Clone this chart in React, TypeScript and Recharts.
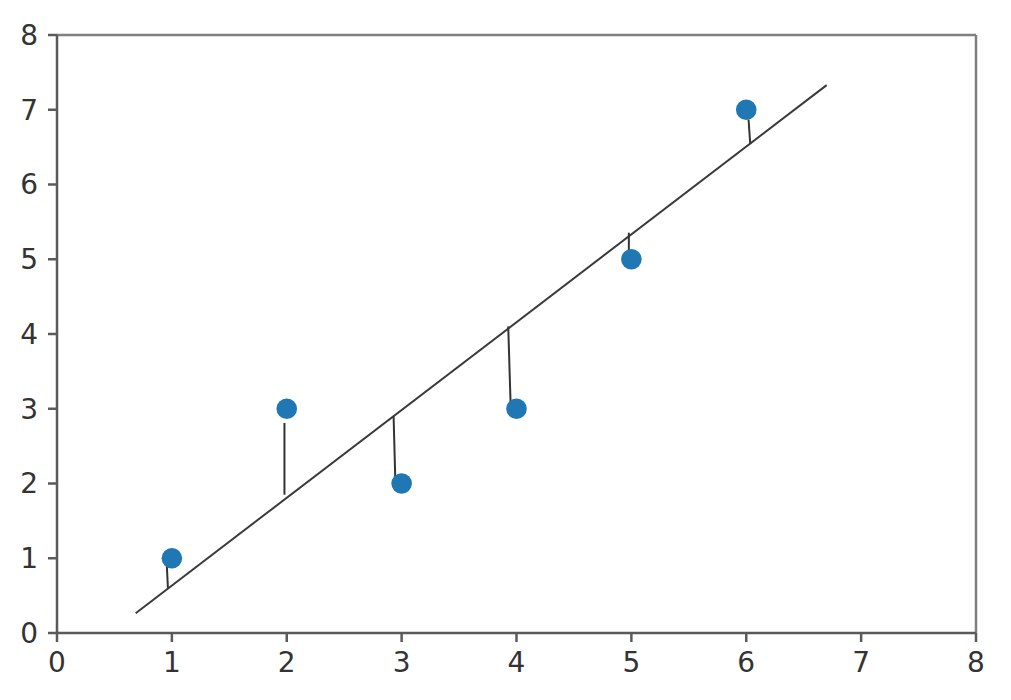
import { ScatterChart, Scatter, XAxis, YAxis, ReferenceLine } from 'recharts';

const pointX = [1, 2, 3, 4, 5, 6];
const pointY = [1, 3, 2, 3, 5, 7];

// fitted line end points
const fitX = [0.685, 6.7];
const fitY = [0.264, 7.33];

// residual segments: from the fitted line to the other end
const residLineX = [0.966, 1.98, 2.93, 3.928, 4.978, 6.035];
const residLineY = [0.59, 1.85, 2.9, 4.1, 5.355, 6.54];
const residEndX = [0.953, 1.98, 2.945, 3.95, 4.978, 6.02];
const residEndY = [1.0, 2.81, 2.05, 3.0, 4.99, 6.87];

const ticks = [0, 1, 2, 3, 4, 5, 6, 7, 8];

const points = pointX.map((x, i) => ({ x, y: pointY[i] }));
const fitData = fitX.map((x, i) => ({ x, y: fitY[i] }));
const residuals = residLineX.map((x, i) => [
  { x, y: residLineY[i] },
  { x: residEndX[i], y: residEndY[i] },
]);

const tickStyle = { fontSize: 28, fill: '#333', fontFamily: 'DejaVu Sans' };
const axisColor = '#5a5a5a';

const noDot = () => <g />;
const dot = (props: any) => <circle cx={props.cx} cy={props.cy} r={10.3} fill="#1f77b4" />;

export default function App() {
  return (
    <div style={{ position: 'absolute', left: 0, top: 0, background: '#fff' }}>
      <ScatterChart width={1011} height={700} margin={{ top: 35, right: 35, left: 0, bottom: 0 }}>
        <XAxis
          type="number"
          dataKey="x"
          domain={[0, 8]}
          ticks={ticks}
          allowDataOverflow
          height={67}
          tickSize={9}
          tickMargin={10}
          stroke={axisColor}
          strokeWidth={2.5}
          tick={tickStyle}
        />
        <YAxis
          type="number"
          dataKey="y"
          domain={[0, 8]}
          ticks={ticks}
          allowDataOverflow
          width={57}
          tickSize={9}
          tickMargin={10}
          stroke={axisColor}
          strokeWidth={2.5}
          tick={tickStyle}
        />
        <ReferenceLine y={8} stroke="#808080" strokeWidth={2.5} />
        <ReferenceLine x={8} stroke="#808080" strokeWidth={2.5} />
        <Scatter
          data={fitData}
          line={{ stroke: '#3a3a3a', strokeWidth: 2 }}
          shape={noDot}
          isAnimationActive={false}
        />
        {residuals.map((seg, i) => (
          <Scatter
            key={i}
            data={seg}
            line={{ stroke: '#333', strokeWidth: 2 }}
            shape={noDot}
            isAnimationActive={false}
          />
        ))}
        <Scatter data={points} shape={dot} isAnimationActive={false} />
      </ScatterChart>
    </div>
  );
}
